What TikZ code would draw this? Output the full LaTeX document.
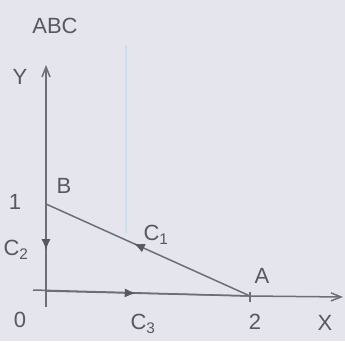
\documentclass[tikz,border=0pt]{standalone}
\usepackage{fontspec}
\setmainfont{Liberation Sans}
\usetikzlibrary{arrows.meta,positioning,decorations.markings}
\definecolor{pencil}{HTML}{6E6E7A}
\definecolor{paper}{HTML}{E5E5EE}
\definecolor{crease}{HTML}{CCE0EC}

\begin{document}
\begin{tikzpicture}[x=1pt,y=1pt,>={Straight Barb[length=10pt,width=8pt]},
    axis/.style={draw=pencil,line width=1.5pt},
    flowat/.style={postaction={decorate},decoration={markings,
        mark=at position #1 with {\arrow[pencil!80!black]{Latex[length=11pt,width=9pt]}}}},
    lbl/.style={text=pencil!80!black,font=\fontsize{22}{22}\selectfont,inner sep=0pt}]
    \fill[paper] (0,0) rectangle (345,341);
    \useasboundingbox (0,0) rectangle (345,341);

    % points
    \coordinate (O) at (46,50);
    \coordinate (A) at (250,45);
    \coordinate (B) at (46,137);
    \coordinate (ytop) at (46,276);
    \coordinate (ybot) at (46,34);
    \coordinate (xleft) at (33,51);
    \coordinate (xright) at (343,44);
    \coordinate (foldtop) at (126,296);
    \coordinate (foldbot) at (126,108);

    \draw[crease,line width=2pt] (foldtop) -- (foldbot);

    % axes
    \draw[axis,->] (ybot) -- (ytop);
    \draw[axis,->] (xleft) -- (A) -- (xright);
    \draw[axis,line width=1.2pt] ([yshift=-6pt]A) -- ([yshift=4pt]A);

    % contour C = C1 + C2 + C3
    \draw[axis,flowat=0.57] (A) -- (B);
    \draw[axis,flowat=0.53] (B) -- (O);
    \draw[axis,flowat=0.44] (O) -- (A);

    % labels
    \node[lbl] (title) at (55,315) {ABC};
    \node[lbl] (ylbl) at (20,264) {Y};
    \node[lbl] (xlbl) at (325,18) {X};
    \node[lbl] (one) at (15,139) {1};
    \node[lbl] (two) at (255,19) {2};
    \node[lbl] (zero) at (20,21) {0};
    \node[lbl] (blbl) at (64,155) {B};
    \node[lbl] (albl) at (262,65) {A};
    \node[lbl] (cone) at (156,106) {C\textsubscript{1}};
    \node[lbl] (ctwo) at (16,91) {C\textsubscript{2}};
    \node[lbl] (cthree) at (143,17) {C\textsubscript{3}};
\end{tikzpicture}
\end{document}
